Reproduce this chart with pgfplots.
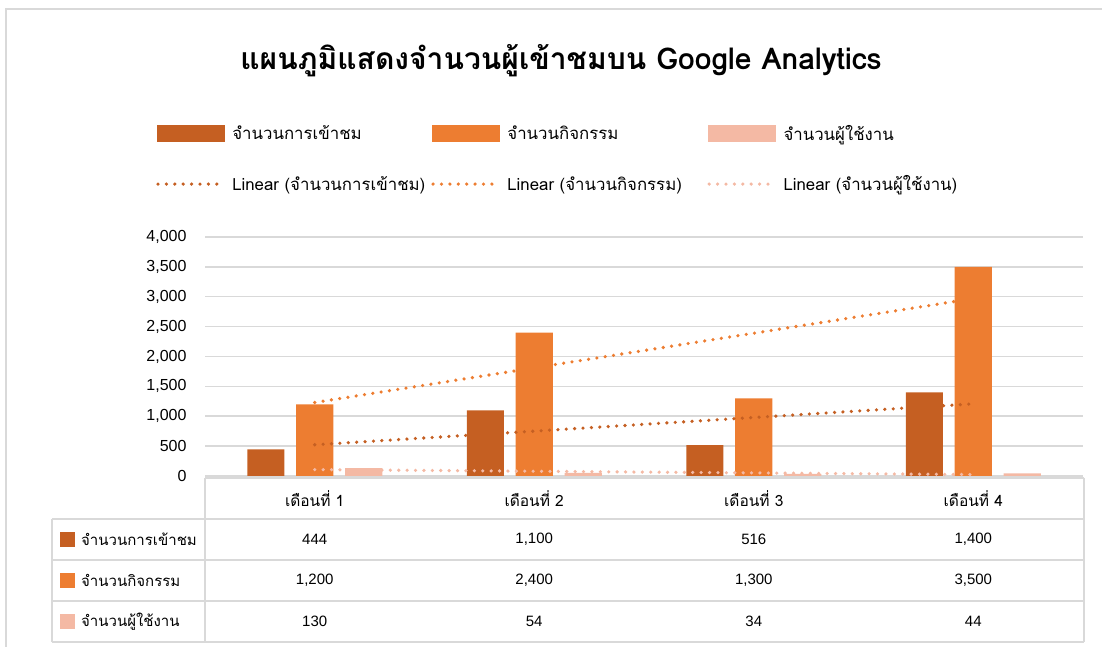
\documentclass[border=0pt]{standalone}
\usepackage{pgfplots}
\pgfplotsset{compat=1.18}
\usepackage{fontspec}
\setmainfont{Liberation Sans}
\newfontfamily\thaifont[Script=Thai]{Loma}
\definecolor{cA}{HTML}{C55F22}
\definecolor{cB}{HTML}{ED7D31}
\definecolor{cC}{HTML}{F4B9A4}
\definecolor{gridc}{HTML}{D9D9D9}
\tikzset{
  trend/.style={line width=3.6pt, line cap=round, dash pattern=on 0pt off 8.4pt},
}
\begin{document}
\begin{tikzpicture}[x=1pt,y=1pt]
\useasboundingbox (0,0) rectangle (1102,647);
% outer frame
\draw[gridc, line width=1.5pt] (6,0) -- (6,638) -- (1102,638);
% title
\node[font=\thaifont\bfseries\fontsize{30}{34}\selectfont] at (561,586) {แผนภูมิแสดงจำนวนผู้เข้าชมบน Google Analytics};

\begin{axis}[
  at={(205pt,171pt)}, anchor=south west,
  scale only axis, width=878pt, height=239pt,
  xmin=0.5, xmax=4.5, ymin=0, ymax=4000,
  xtick=\empty,
  ytick={0,500,1000,1500,2000,2500,3000,3500,4000},
  ymajorgrids, grid style={gridc, line width=1.5pt},
  axis line style={draw=none},
  major tick length=0pt,
  yticklabel style={font=\fontsize{16}{18}\selectfont, xshift=-15pt},
  /pgf/number format/assume math mode=true,
  /pgf/number format/1000 sep={,},
  scaled y ticks=false,
  clip=false,
  legend columns=3,
  legend style={at={(-0.0558,1.477)}, anchor=north west, draw=none, fill=none,
    inner sep=0pt, row sep=30pt,
    font=\thaifont\fontsize{16.8}{19}\selectfont,
    /tikz/every odd column/.append style={column sep=4pt}},
  legend cell align=left,
]
\addplot[ybar, bar width=0.169, bar shift=-0.223, fill=cA, draw=none,
  legend image code/.code={\fill[cA] (0pt,-8.5pt) rectangle (68pt,8.5pt);}]
  coordinates {(1,444) (2,1100) (3,516) (4,1400)};
\addlegendentry{\makebox[197pt][l]{จำนวนการเข้าชม}}
\addplot[ybar, bar width=0.169, bar shift=0, fill=cB, draw=none,
  legend image code/.code={\fill[cB] (0pt,-8.5pt) rectangle (68pt,8.5pt);}]
  coordinates {(1,1200) (2,2400) (3,1300) (4,3500)};
\addlegendentry{\makebox[198pt][l]{จำนวนกิจกรรม}}
\addplot[ybar, bar width=0.169, bar shift=0.223, fill=cC, draw=none,
  legend image code/.code={\fill[cC] (0pt,-8.5pt) rectangle (68pt,8.5pt);}]
  coordinates {(1,130) (2,54) (3,34) (4,44)};
\addlegendentry{จำนวนผู้ใช้งาน}
\addplot[cA, trend,
  legend image code/.code={\draw[cA,trend] (1.5pt,0pt) -- (68pt,0pt);}]
  coordinates {(1,522.4) (4,1207.6)};
\addlegendentry{\makebox[197pt][l]{Linear (จำนวนการเข้าชม)}}
\addplot[cB, trend,
  legend image code/.code={\draw[cB,trend] (1.5pt,0pt) -- (68pt,0pt);}]
  coordinates {(1,1230) (4,2970)};
\addlegendentry{\makebox[198pt][l]{Linear (จำนวนกิจกรรม)}}
\addplot[cC, trend,
  legend image code/.code={\draw[cC,trend] (1.5pt,0pt) -- (68pt,0pt);}]
  coordinates {(1,107.2) (4,23.8)};
\addlegendentry{Linear (จำนวนผู้ใช้งาน)}
\end{axis}

% data table
\begin{scope}[gridc, line width=1.5pt]
\draw (205,169) -- (1084,169);
\draw (52,128) -- (1084,128);
\draw (52,87) -- (1084,87);
\draw (52,46) -- (1084,46);
\draw (52,5) -- (1084,5);
\draw (52,128) -- (52,5);
\draw (205,169) -- (205,5);
\draw (1084,169) -- (1084,5);
\end{scope}
\begin{scope}[font=\thaifont\fontsize{15.5}{18}\selectfont]
\node at (314.7,148.5) {เดือนที่ 1};
\node at (534.2,148.5) {เดือนที่ 2};
\node at (753.8,148.5) {เดือนที่ 3};
\node at (973.3,148.5) {เดือนที่ 4};
\end{scope}
\begin{scope}[font=\thaifont\fontsize{15}{18}\selectfont]
\fill[cA] (60,100) rectangle (75,115);
\fill[cB] (60,59) rectangle (75,74);
\fill[cC] (60,18) rectangle (75,33);
\node[anchor=west, inner sep=0pt] at (81,107.5) {จำนวนการเข้าชม};
\node[anchor=west, inner sep=0pt] at (81,66.5) {จำนวนกิจกรรม};
\node[anchor=west, inner sep=0pt] at (81,25.5) {จำนวนผู้ใช้งาน};
\end{scope}
\begin{scope}[font=\fontsize{15}{18}\selectfont]
\node at (314.7,107.5) {444};
\node at (534.2,107.5) {1,100};
\node at (753.8,107.5) {516};
\node at (973.3,107.5) {1,400};
\node at (314.7,66.5) {1,200};
\node at (534.2,66.5) {2,400};
\node at (753.8,66.5) {1,300};
\node at (973.3,66.5) {3,500};
\node at (314.7,25.5) {130};
\node at (534.2,25.5) {54};
\node at (753.8,25.5) {34};
\node at (973.3,25.5) {44};
\end{scope}
\end{tikzpicture}
\end{document}
